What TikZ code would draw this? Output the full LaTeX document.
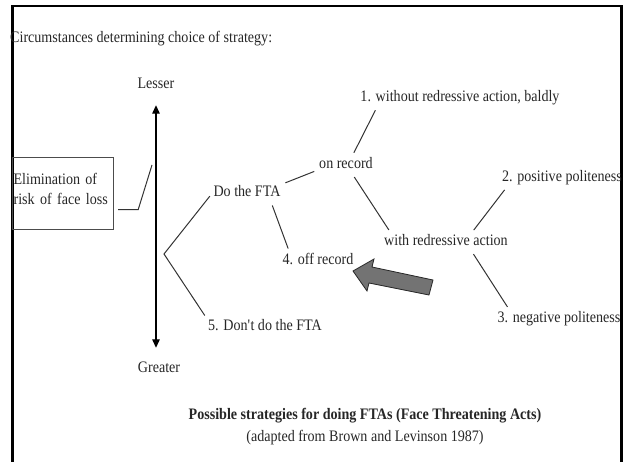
\documentclass[tikz,border=0pt]{standalone}
\usepackage{fontspec}
\setmainfont{Liberation Serif}[FakeStretch = 0.88]
\usetikzlibrary{arrows.meta, positioning}

\begin{document}
\begin{tikzpicture}[x = 1pt, y = -1pt,
    lbl/.style = {font = \fontsize{16}{19}\selectfont, text = black!85, inner sep = 1pt, text height = 11pt, text depth = 4pt},
    elimbox/.style = {draw = black!70, line width = 1.2pt, font = \fontsize{16}{20}\selectfont, text = black!85, text width = 99pt, inner xsep = 1pt, minimum height = 72pt, align = left},
    branch/.style = {draw = black!80, line width = 1pt, shorten < = 4pt, shorten > = 4pt},
    link/.style = {draw = black!80, line width = 1pt},
    scale axis/.style = {{Triangle[width = 7.5pt, length = 8.5pt]}-{Triangle[width = 7.5pt, length = 8.5pt]}, line width = 1.3pt, shorten < = 11.5pt, shorten > = 12.5pt},
    frame/.style = {line width = 2.5pt, line cap = rect}]
    \useasboundingbox (0,0) rectangle (625,462);

    \draw[frame] (12.5,462) -- (12.5,6) -- (621.5,6) -- (621.5,462);

    \node[lbl, anchor = west]			(circ)		at (9,39)		{Circumstances determining choice of strategy:};
    \node[lbl]							(lesser)	at (156,85)		{Lesser};
    \node[lbl]							(greater)	at (159,369)	{Greater};
    \node[elimbox, anchor = north west]	(elim)		at (12,157)		{Elimination of\\risk of face loss\\[-10pt]\mbox{}};
    \node[lbl]							(dofta)		at (247,193)	{Do the FTA};
    \node[lbl]							(onrec)		at (346,165)	{on record};
    \node[lbl]							(bald)		at (460,98)		{1. without redressive action, baldly};
    \node[lbl]							(withred)	at (446,242)	{with redressive action};
    \node[lbl]							(pos)		at (562,178)	{2. positive politeness};
    \node[lbl]							(neg)		at (559,319)	{3. negative politeness};
    \node[lbl]							(offrec)	at (318,261)	{4. off record};
    \node[lbl]							(dont)		at (265,327)	{5. Don\textquotesingle t do the FTA};
    \node[lbl, font = \fontsize{16}{19}\selectfont\bfseries] (title) at (365,416) {Possible strategies for doing FTAs (Face Threatening Acts)};
    \node[lbl]							(source)	at (365,438)	{(adapted from Brown and Levinson 1987)};

    \coordinate (fork)		at (164,254);
    \coordinate (elimtop)	at (152,165);

    \draw[scale axis] (lesser.south) -- (lesser.south |- greater.north);
    \draw[link] ([xshift = 4pt, yshift = -16pt]elim.east) -- ++(20,0) -- (elimtop);
    \draw[branch] (dofta.west) -- (fork) -- (dont.172);
    \draw[branch] (dofta.north east) -- (onrec.190);
    \draw[branch] (dofta.-20) -- (offrec.163);
    \draw[branch] (onrec.55) -- (bald.186);
    \draw[branch] (onrec.-55) -- (withred.171);
    \draw[branch] (withred.19) -- (pos.189);
    \draw[branch] (withred.-19) -- (neg.170);

    \filldraw[fill = black!55, draw = black!85, line width = 0.8pt]
        (353,271) -- (374,259) -- (372,267) -- (433,280) -- (429,295) -- (369,283) -- (367,291) -- cycle;
\end{tikzpicture}
\end{document}
